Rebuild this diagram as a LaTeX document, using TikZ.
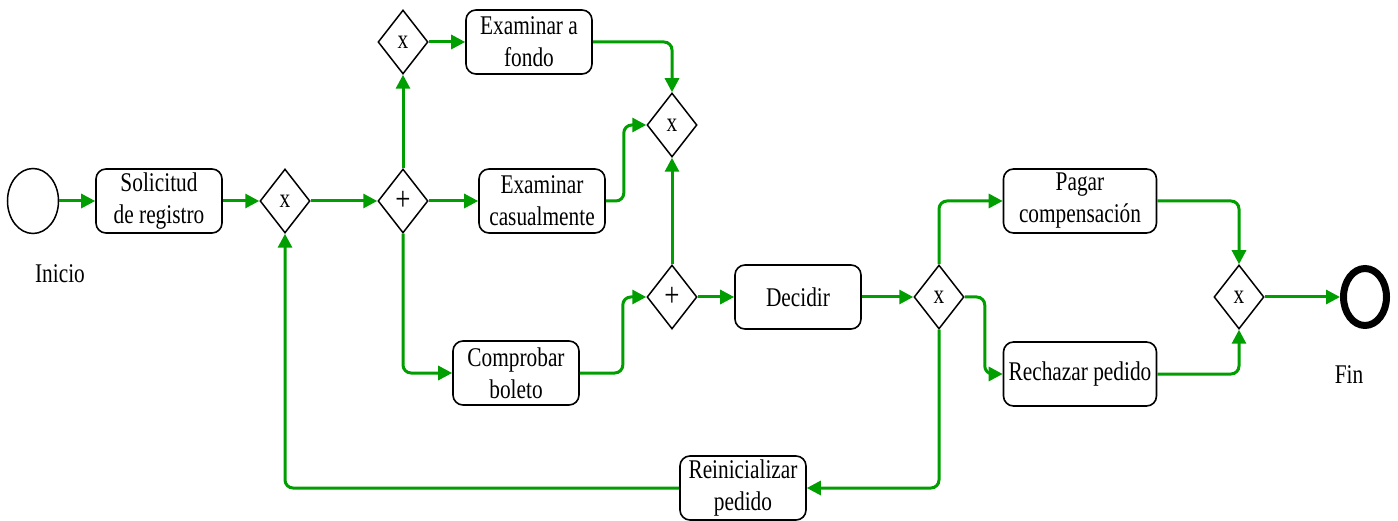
\documentclass[tikz,border=0pt]{standalone}
\usepackage{fontspec}
\setmainfont{Liberation Serif}[FakeStretch=0.79]
\usetikzlibrary{shapes.geometric,arrows.meta}
\definecolor{flowgreen}{RGB}{0,158,0}
\tikzset{
  txt/.style={font=\fontsize{27}{32}\selectfont},
  task/.style={txt, draw, rounded corners=10pt, line width=1.6pt, minimum width=126pt, minimum height=64pt, align=center, inner sep=0pt},
  gw/.style={txt, draw, diamond, line width=1.5pt, minimum width=50pt, minimum height=64pt, inner sep=0pt},
  pgw/.style={gw, font=\fontsize{34}{34}\selectfont},
  flow/.style={draw=flowgreen, line width=3pt, rounded corners=8pt, -{Triangle[length=14pt,width=14pt]}},
}
\begin{document}
\begin{tikzpicture}[x=1pt,y=-1pt]
\useasboundingbox (0,0) rectangle (1398,521);
% events
\node[draw, ellipse, line width=1.5pt, minimum width=51pt, minimum height=65pt, inner sep=0pt] (start) at (33,201) {};
\node[draw, ellipse, line width=7pt, minimum width=43pt, minimum height=57pt, inner sep=0pt] (end) at (1365,297) {};
\node[txt, anchor=base] (lstart) at (60,283) {Inicio};
\node[txt, anchor=base] (lend) at (1349,383) {Fin};
% tasks
\node[task] (sol) at (159,201) {Solicitud\\de registro};
\node[task] (ef) at (529,42) {Examinar a\\fondo};
\node[task] (ec) at (542,201) {Examinar\\casualmente};
\node[task] (cb) at (516,373) {Comprobar\\boleto};
\node[task] (dec) at (798,297) {Decidir};
\node[task, minimum width=153pt] (pag) at (1080,201) {Pagar\\compensación};
\node[task, minimum width=153pt] (rech) at (1080,374) {Rechazar pedido};
\node[task] (rei) at (743,488) {Reinicializar\\pedido};
% gateways
\node[gw] (g1) at (285,201) {x};
\node[pgw] (gp) at (403,201) {+};
\node[gw] (gxt) at (403,42) {x};
\node[gw] (gxm) at (672,125) {x};
\node[pgw] (gpm) at (672,297) {+};
\node[gw] (gd) at (939,297) {x};
\node[gw] (gf) at (1239,297) {x};
% flows
\draw[flow] (start) -- (sol);
\draw[flow] (sol) -- (g1);
\draw[flow] (g1) -- (gp);
\draw[flow] (gp) -- (ec);
\draw[flow] (gp.north) -- (gxt.south);
\draw[flow] (gxt) -- (ef);
\draw[flow] (ef.east) -| (gxm.north);
\draw[flow] (ec.east) -- ++(18,0) |- (gxm.west);
\draw[flow] (gp.south) |- (cb.west);
\draw[flow] (cb.east) -- ++(43,0) |- (gpm.west);
\draw[flow] (gpm.north) -- (gxm.south);
\draw[flow] (gpm) -- (dec);
\draw[flow] (dec) -- (gd);
\draw[flow] (gd.north) |- (pag.west);
\draw[flow] (gd.east) -- ++(20,0) |- (rech.west);
\draw[flow] (gd.south) |- (rei.east);
\draw[flow] (rei.west) -| (g1.south);
\draw[flow] (pag.east) -| (gf.north);
\draw[flow] (rech.east) -| (gf.south);
\draw[flow] (gf) -- (end);
\end{tikzpicture}
\end{document}
